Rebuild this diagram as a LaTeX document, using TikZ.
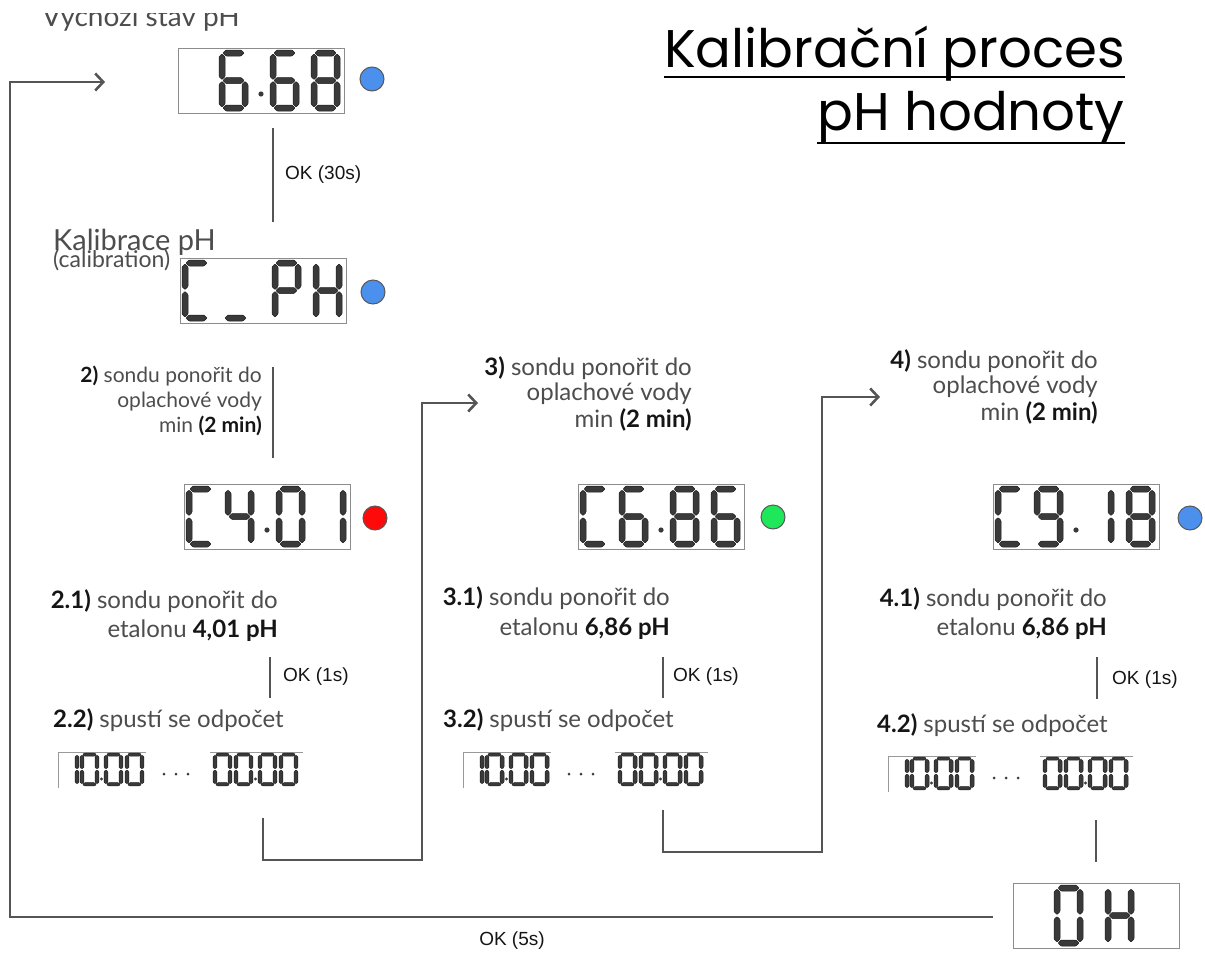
\documentclass[tikz,border=0pt]{standalone}
\usepackage{fontspec}
\setmainfont{Lato}
\newfontfamily\okfont{Liberation Sans}
\newfontfamily\titlefont{Poppins}
\usetikzlibrary{arrows.meta,calc}
\definecolor{segc}{HTML}{3A3A3A}
\definecolor{segd}{HTML}{1E1E1E}
\definecolor{linec}{HTML}{555555}
\definecolor{txtc}{HTML}{4D4D4D}
\definecolor{boldc}{HTML}{151515}
\definecolor{dotblue}{HTML}{4A90EC}
\definecolor{dotred}{HTML}{FF0A0A}
\definecolor{dotgreen}{HTML}{1EE85A}
\tikzset{
  seg/.style={fill=segc,draw=segd,line width=0.5pt,rounded corners=0.7pt},
  dispbox/.style={draw=black!45,line width=0.8pt,minimum width=166pt,minimum height=65pt,inner sep=0pt},
  cdline/.style={draw=black!40,line width=0.7pt},
  conn/.style={draw=linec,line width=2.6pt},
  arr/.style={conn,-{Straight Barb[length=8pt,width=17pt]}},
  body/.style={text=txtc,font=\fontsize{24}{26}\selectfont,inner sep=0pt},
  bodys/.style={text=txtc,font=\fontsize{21}{25}\selectfont,inner sep=0pt},
  oklab/.style={text=boldc,font=\okfont\fontsize{19}{21}\selectfont,inner sep=0pt},
  leddot/.style={draw=black!65,line width=1pt,minimum size=24pt,circle,inner sep=0pt},
}
\newcommand\B[1]{\textbf{\color{boldc}#1}}
\newcommand\dsega{\fill[seg] (4,3)--(7,0)--(22,0)--(25,3)--(22,6)--(7,6)--cycle;}
\newcommand\dsegg{\fill[seg] (4,30.5)--(7,27.5)--(22,27.5)--(25,30.5)--(22,33.5)--(7,33.5)--cycle;}
\newcommand\dsegd{\fill[seg] (4,58)--(7,55)--(22,55)--(25,58)--(22,61)--(7,61)--cycle;}
\newcommand\dsegf{\fill[seg] (3,4)--(6,7)--(6,26.5)--(3,29.5)--(0,26.5)--(0,7)--cycle;}
\newcommand\dsegb{\fill[seg] (26,4)--(29,7)--(29,26.5)--(26,29.5)--(23,26.5)--(23,7)--cycle;}
\newcommand\dsege{\fill[seg] (3,31.5)--(6,34.5)--(6,54)--(3,57)--(0,54)--(0,34.5)--cycle;}
\newcommand\dsegc{\fill[seg] (26,31.5)--(29,34.5)--(29,54)--(26,57)--(23,54)--(23,34.5)--cycle;}
\newcommand\bigdigit[3]{\begin{scope}[shift={(#1,#2)}]\foreach \s in {#3}{\csname dseg\s\endcsname}\end{scope}}
\newcommand\smalldigit[3]{\begin{scope}[shift={(#1,#2)},xscale=0.655,yscale=0.54]\foreach \s in {#3}{\csname dseg\s\endcsname}\end{scope}}
% #1 name, #2 x, #3 y, #4-#7 segments of the four cells, #8 decimal point (1/0)
\newcommand\lcd[8]{%
  \node[dispbox,anchor=north west] (#1) at (#2,#3) {};
  \begin{scope}[shift={(#2,#3)}]
    \bigdigit{2}{2}{#4}\bigdigit{41}{2}{#5}\bigdigit{92}{2}{#6}\bigdigit{133}{2}{#7}
    \ifnum#8=1 \fill[segc] (83,46) circle (2.6pt);\fi
  \end{scope}}
\newcommand\countdown[3]{%
  \coordinate (#1) at (#2,#3);
  \begin{scope}[shift={(#2,#3)}]
    \draw[cdline] (0,36)--(0,0)--(88,0);
    \draw[cdline] (152,0)--(245,0);
    \smalldigit{2}{1}{b,c}\smalldigit{22}{1}{a,b,c,d,e,f}
    \smalldigit{46}{1}{a,b,c,d,e,f}\smalldigit{67}{1}{a,b,c,d,e,f}
    \fill[segc] (43.5,27) circle (1.6pt);
    \fill[segc] (106,22) circle (1.5pt);
    \fill[segc] (118,22) circle (1.5pt);
    \fill[segc] (130,22) circle (1.5pt);
    \smalldigit{155}{1}{a,b,c,d,e,f}\smalldigit{176}{1}{a,b,c,d,e,f}
    \smalldigit{200}{1}{a,b,c,d,e,f}\smalldigit{221}{1}{a,b,c,d,e,f}
    \fill[segc] (197.5,27) circle (1.6pt);
  \end{scope}}
\begin{document}
\begin{tikzpicture}[x=1pt,y=-1pt]
\useasboundingbox[fill=white] (0,0) rectangle (1205,953);

% title
\node[anchor=base east,inner sep=0pt,font=\titlefont\fontsize{53}{55}\selectfont] (t1) at (1125,67) {Kalibrační proces};
\node[anchor=base east,inner sep=0pt,font=\titlefont\fontsize{53}{55}\selectfont] (t2) at (1125,130) {pH hodnoty};
\draw[line width=2pt] ($(t1.base west)+(0,10)$) -- ($(t1.base east)+(0,10)$);
\draw[line width=2pt] ($(t2.base west)+(0,13)$) -- ($(t2.base east)+(0,13)$);

% initial state (the reference shows this label cut off at the top)
\begin{scope}
\clip (0,13) rectangle (400,45);
\node[anchor=base west,inner sep=0pt,text=txtc,font=\fontsize{28}{28}\selectfont] (vs) at (42,27) {Výchozí stav pH};
\end{scope}
\lcd{d1}{178}{48}{}{a,f,g,e,c,d}{a,f,g,e,c,d}{a,b,c,d,e,f,g}{1}
\node[leddot,fill=dotblue] (l1) at (372,79) {};

% OK 30s
\coordinate (c1a) at (273,128);
\coordinate (c1b) at (273,222);
\draw[conn] (c1a) -- (c1b);
\node[oklab,anchor=west] (ok30) at (285,175) {OK (30s)};

% calibration
\node[anchor=base west,inner sep=0pt,text=txtc,font=\fontsize{29}{29}\selectfont] (kal) at (53,250) {Kalibrace pH};
\node[anchor=base west,inner sep=0pt,text=txtc,font=\fontsize{23}{23}\selectfont] (cal) at (53,267) {(calibration)};
\lcd{d2}{180}{258}{a,f,e,d}{d}{a,b,f,g,e}{f,b,g,e,c}{0}
\node[leddot,fill=dotblue] (l2) at (373,292) {};

% step 2
\coordinate (c2a) at (273,367);
\coordinate (c2b) at (273,458);
\draw[conn] (c2a) -- (c2b);
\node[bodys,anchor=base east] (s2a) at (262,382) {\B{2)} sondu ponořit do};
\node[bodys,anchor=base east] (s2b) at (262,407) {oplachové vody};
\node[bodys,anchor=base east] (s2c) at (262,432) {min \B{(2 min)}};
\lcd{d3}{184}{484}{a,f,e,d}{f,g,b,c}{a,b,c,d,e,f}{b,c}{1}
\node[leddot,fill=dotred] (l3) at (375,518) {};
\node[body,anchor=base east] (s21a) at (278,608) {\B{2.1)} sondu ponořit do};
\node[body,anchor=base east] (s21b) at (278,637) {etalonu \B{4,01 pH}};
\coordinate (c3a) at (270,657);
\coordinate (c3b) at (270,698);
\draw[conn] (c3a) -- (c3b);
\node[oklab,anchor=west] (ok1a) at (283,677) {OK (1s)};
\node[body,anchor=base west] (s22) at (53,727) {\B{2.2)} spustí se odpočet};
\countdown{cd2}{58}{752}

% step 3
\coordinate (u1a) at (263,818);
\coordinate (u1b) at (478,403);
\draw[arr] (u1a) -- (263,860) -- (422,860) -- (422,403) -- (u1b);
\node[body,anchor=base east] (s3a) at (692,375) {\B{3)} sondu ponořit do};
\node[body,anchor=base east] (s3b) at (692,400) {oplachové vody};
\node[body,anchor=base east] (s3c) at (692,427) {min \B{(2 min)}};
\lcd{d4}{578}{484}{a,f,e,d}{a,f,g,e,c,d}{a,b,c,d,e,f,g}{a,f,g,e,c,d}{1}
\node[leddot,fill=dotgreen] (l4) at (773,517) {};
\node[body,anchor=base east] (s31a) at (670,605) {\B{3.1)} sondu ponořit do};
\node[body,anchor=base east] (s31b) at (670,635) {etalonu \B{6,86 pH}};
\coordinate (c4a) at (663,657);
\coordinate (c4b) at (663,698);
\draw[conn] (c4a) -- (c4b);
\node[oklab,anchor=west] (ok1b) at (673,677) {OK (1s)};
\node[body,anchor=base west] (s32) at (443,727) {\B{3.2)} spustí se odpočet};
\countdown{cd3}{463}{752}

% step 4
\coordinate (u2a) at (663,810);
\coordinate (u2b) at (880,397);
\draw[arr] (u2a) -- (663,852) -- (822,852) -- (822,397) -- (u2b);
\node[body,anchor=base east] (s4a) at (1098,368) {\B{4)} sondu ponořit do};
\node[body,anchor=base east] (s4b) at (1098,393) {oplachové vody};
\node[body,anchor=base east] (s4c) at (1098,420) {min \B{(2 min)}};
\lcd{d5}{993}{484}{a,f,e,d}{a,b,c,d,f,g}{b,c}{a,b,c,d,e,f,g}{1}
\node[leddot,fill=dotblue] (l5) at (1190,518) {};
\node[body,anchor=base east] (s41a) at (1107,606) {\B{4.1)} sondu ponořit do};
\node[body,anchor=base east] (s41b) at (1107,635) {etalonu \B{6,86 pH}};
\coordinate (c5a) at (1097,657);
\coordinate (c5b) at (1097,699);
\draw[conn] (c5a) -- (c5b);
\node[oklab,anchor=west] (ok1c) at (1112,680) {OK (1s)};
\node[body,anchor=base west] (s42) at (877,732) {\B{4.2)} spustí se odpočet};
\countdown{cd4}{888}{756}

% OK display
\coordinate (c6a) at (1096,820);
\coordinate (c6b) at (1096,862);
\draw[conn] (c6a) -- (c6b);
\lcd{d6}{1013}{883}{}{a,b,c,d,e,f}{f,b,g,e,c}{}{0}

% return loop
\coordinate (r1) at (993,917);
\coordinate (r2) at (105,82);
\draw[arr] (r1) -- (10,917) -- (10,82) -- (r2);
\node[oklab,anchor=center] (ok5) at (512,941) {OK (5s)};
\end{tikzpicture}
\end{document}
